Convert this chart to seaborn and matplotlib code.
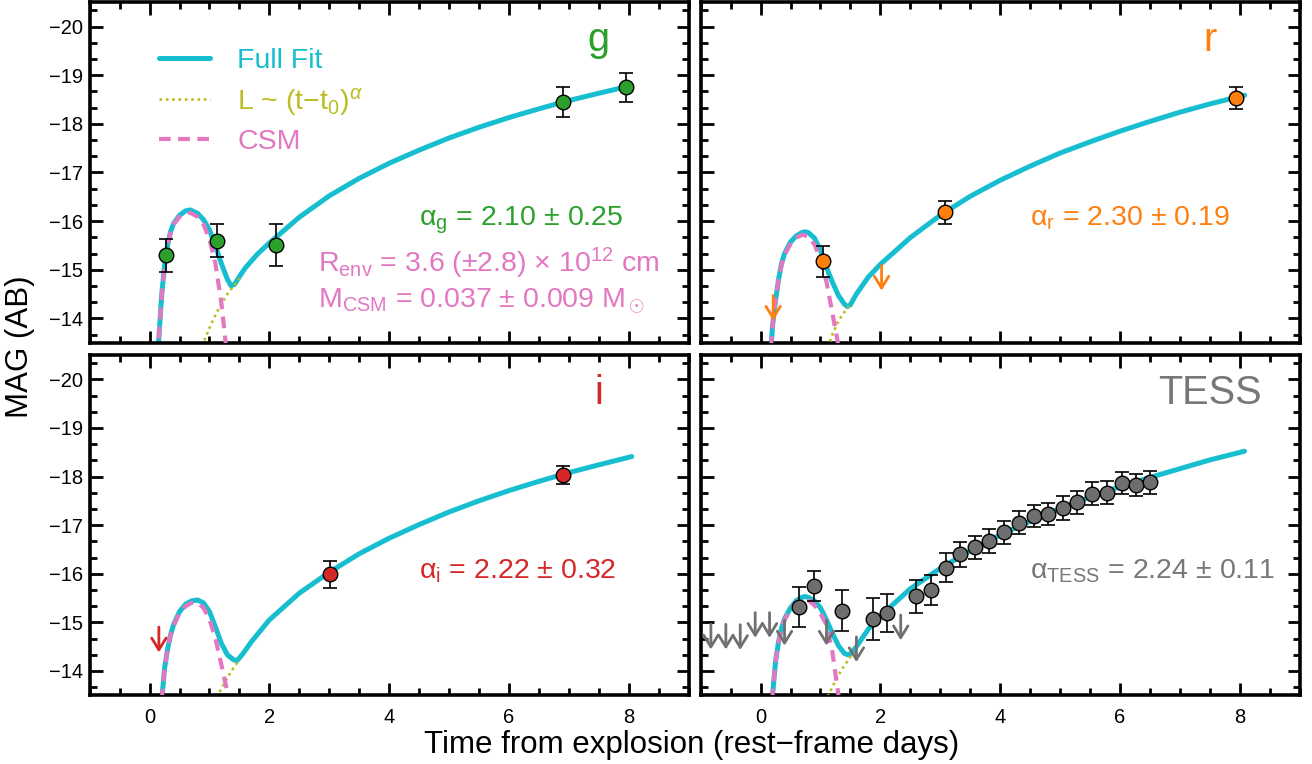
import matplotlib
matplotlib.use("Agg")
import matplotlib.pyplot as plt
from matplotlib.ticker import MultipleLocator
import seaborn as sns

# ---------------- data ----------------
# g band
g_t = [0.27, 1.12, 2.11, 6.90, 7.96]
g_mag = [-15.30, -15.60, -15.51, -18.45, -18.75]
g_err = [0.34, 0.34, 0.44, 0.30, 0.30]
g_fit_t = [0.12, 0.15, 0.2, 0.25, 0.3, 0.35, 0.4, 0.5, 0.6, 0.68, 0.8, 0.9, 1.0, 1.1, 1.2, 1.3, 1.36, 1.42,
           1.5, 1.6, 1.8, 2.0, 2.5, 3.0, 3.5, 4.0, 4.5, 5.0, 5.5, 6.0, 6.5, 7.0, 7.5, 8.05]
g_fit_mag = [-12.8, -13.5, -14.45, -15.1, -15.5, -15.78, -15.95, -16.12, -16.21, -16.23, -16.16, -16.03, -15.82,
             -15.49, -15.12, -14.8, -14.67, -14.7, -14.86, -15.04, -15.32, -15.55, -16.08, -16.52, -16.88, -17.19,
             -17.46, -17.71, -17.93, -18.13, -18.31, -18.48, -18.63, -18.79]
g_csm_t = [0.12, 0.15, 0.2, 0.25, 0.3, 0.35, 0.4, 0.5, 0.6, 0.68, 0.8, 0.9, 1.0, 1.1, 1.2, 1.27, 1.31]
g_csm_mag = [-12.8, -13.5, -14.45, -15.1, -15.49, -15.76, -15.93, -16.09, -16.16, -16.17, -16.09, -15.93, -15.63,
             -15.12, -14.3, -13.5, -12.9]
g_pl_t = [0.84, 0.9, 1.0, 1.1, 1.2, 1.3, 1.4, 1.5]
g_pl_mag = [-13.3, -13.5, -13.8, -14.07, -14.3, -14.5, -14.66, -14.82]

# r band
r_t = [1.05, 3.08, 7.94]
r_mag = [-15.17, -16.18, -18.53]
r_err = [0.31, 0.24, 0.23]
r_lim_t = [0.21, 2.02]
r_lim_mag = [-14.47, -15.09]
r_fit_t = [0.15, 0.18, 0.2, 0.25, 0.3, 0.35, 0.4, 0.5, 0.6, 0.7, 0.75, 0.8, 0.9, 1.0, 1.1, 1.2, 1.3, 1.4, 1.45,
           1.5, 1.6, 1.8, 2.0, 2.5, 3.0, 3.5, 4.0, 4.5, 5.0, 5.5, 6.0, 6.5, 7.0, 7.5, 8.08]
r_fit_mag = [-13.0, -13.5, -13.85, -14.37, -14.8, -15.13, -15.33, -15.57, -15.7, -15.77, -15.78, -15.76, -15.65,
             -15.4, -15.05, -14.74, -14.47, -14.29, -14.24, -14.28, -14.5, -14.85, -15.11, -15.66, -16.12, -16.51,
             -16.84, -17.13, -17.4, -17.63, -17.85, -18.05, -18.24, -18.41, -18.59]
r_csm_t = [0.15, 0.18, 0.2, 0.25, 0.3, 0.35, 0.4, 0.5, 0.6, 0.7, 0.8, 0.9, 1.0, 1.1, 1.2, 1.29, 1.33]
r_csm_mag = [-13.0, -13.5, -13.85, -14.37, -14.79, -15.11, -15.3, -15.53, -15.66, -15.72, -15.68, -15.52, -15.22,
             -14.75, -14.1, -13.5, -13.0]
r_pl_t = [1.12, 1.21, 1.3, 1.4, 1.5]
r_pl_mag = [-13.4, -13.7, -13.95, -14.13, -14.29]

# i band
i_t = [3.02, 6.91]
i_mag = [-15.99, -18.03]
i_err = [0.28, 0.19]
i_lim_t = [0.155]
i_lim_mag = [-14.9]
i_fit_t = [0.18, 0.21, 0.25, 0.3, 0.35, 0.4, 0.5, 0.6, 0.7, 0.8, 0.9, 1.0, 1.1, 1.2, 1.3, 1.4, 1.46, 1.55,
           1.7, 2.0, 2.5, 3.0, 3.5, 4.0, 4.5, 5.0, 5.5, 6.0, 6.5, 7.0, 7.5, 8.05]
i_fit_mag = [-13.0, -13.5, -14.05, -14.45, -14.74, -14.95, -15.22, -15.37, -15.44, -15.46, -15.4, -15.22, -14.9,
             -14.56, -14.33, -14.23, -14.21, -14.34, -14.6, -15.05, -15.6, -16.03, -16.41, -16.73, -17.01, -17.27,
             -17.5, -17.71, -17.9, -18.08, -18.24, -18.41]
i_csm_t = [0.18, 0.21, 0.25, 0.3, 0.35, 0.4, 0.5, 0.6, 0.7, 0.8, 0.9, 1.0, 1.1, 1.2, 1.31, 1.35]
i_csm_mag = [-13.0, -13.5, -14.05, -14.45, -14.73, -14.93, -15.19, -15.33, -15.4, -15.4, -15.3, -15.06, -14.66,
             -14.12, -13.5, -13.1]
i_pl_t = [1.12, 1.2, 1.3, 1.4, 1.5]
i_pl_mag = [-13.45, -13.64, -13.86, -14.06, -14.24]

# TESS
tess_t = [0.64, 0.89, 1.36, 1.87, 2.11, 2.60, 2.84, 3.10, 3.33, 3.58, 3.82, 4.07, 4.31, 4.56, 4.80, 5.05,
          5.28, 5.53, 5.78, 6.03, 6.27, 6.51]
tess_mag = [-15.32, -15.75, -15.24, -15.06, -15.19, -15.54, -15.66, -16.12, -16.40, -16.54, -16.67, -16.85,
            -17.05, -17.19, -17.23, -17.35, -17.47, -17.65, -17.67, -17.86, -17.83, -17.88]
tess_err = [0.41, 0.31, 0.42, 0.43, 0.39, 0.34, 0.31, 0.30, 0.26, 0.24, 0.25, 0.24, 0.23, 0.23, 0.23, 0.24,
            0.24, 0.23, 0.23, 0.23, 0.23, 0.23]
tess_lim_t = [-0.83, -0.58, -0.34, -0.09, 0.15, 0.40, 1.10, 1.60, 2.34]
tess_lim_mag = [-14.96, -14.96, -14.95, -15.20, -15.20, -15.04, -15.04, -14.70, -15.15]
tess_fit_t = [0.17, 0.2, 0.25, 0.3, 0.35, 0.4, 0.5, 0.6, 0.7, 0.75, 0.8, 0.9, 1.0, 1.1, 1.2, 1.3, 1.4, 1.46,
              1.52, 1.6, 1.8, 2.0, 2.5, 3.0, 3.5, 4.0, 4.5, 5.0, 5.5, 6.0, 6.5, 7.0, 7.5, 8.08]
tess_fit_mag = [-13.0, -13.5, -14.2, -14.6, -14.88, -15.07, -15.3, -15.45, -15.52, -15.53, -15.51, -15.44,
                -15.3, -15.05, -14.77, -14.52, -14.36, -14.33, -14.37, -14.5, -14.86, -15.13, -15.69, -16.11,
                -16.47, -16.8, -17.08, -17.34, -17.58, -17.79, -17.98, -18.16, -18.34, -18.52]
tess_csm_t = [0.17, 0.2, 0.25, 0.3, 0.35, 0.4, 0.5, 0.6, 0.7, 0.8, 0.9, 1.0, 1.1, 1.2, 1.3, 1.35]
tess_csm_mag = [-13.0, -13.5, -14.2, -14.6, -14.87, -15.05, -15.28, -15.41, -15.47, -15.45, -15.35, -15.18,
                -14.95, -14.38, -13.5, -13.0]
tess_pl_t = [1.08, 1.16, 1.25, 1.35, 1.45, 1.52]
tess_pl_mag = [-13.35, -13.57, -13.8, -14.02, -14.2, -14.32]

# labels
band_names = ["g", "r", "i", "TESS"]
alpha_labels = [r"α$_\mathrm{g}$ = 2.10 ± 0.25", r"α$_\mathrm{r}$ = 2.30 ± 0.19",
                r"α$_\mathrm{i}$ = 2.22 ± 0.32", r"α$_\mathrm{TESS}$ = 2.24 ± 0.11"]
renv_label = r"R$_\mathrm{env}$ = 3.6 (±2.8) × 10$^{12}$ cm"
mcsm_label = r"M$_\mathrm{CSM}$ = 0.037 ± 0.009 M$_\odot$"
legend_labels = ["Full Fit", r"L ~ (t−t$_\mathrm{0}$)$^\alpha$", "CSM"]
x_ticks = [0, 2, 4, 6, 8]
y_ticks = [-20, -19, -18, -17, -16, -15, -14]

# ---------------- style ----------------
sns.set_theme(style="ticks", rc={"axes.edgecolor": "black", "xtick.color": "black",
                                 "ytick.color": "black", "text.color": "black"})
plt.rcParams["font.family"] = ["Liberation Sans", "DejaVu Sans"]
plt.rcParams["mathtext.fontset"] = "custom"
plt.rcParams["mathtext.rm"] = "Liberation Sans"
plt.rcParams["mathtext.it"] = "Liberation Sans:italic"
plt.rcParams["mathtext.bf"] = "Liberation Sans:bold"
plt.rcParams["mathtext.sf"] = "Liberation Sans"

CYAN = "#17BECF"
PINK = "#E377C2"
OLIVE = "#BCBD22"
band_colors = ["#2CA02C", "#FF7F0E", "#D62728", "#6E6E6E"]
text_colors = ["#2CA02C", "#FF7F0E", "#D62728", "#777777"]
arrow_colors = ["#2CA02C", "#FF7F0E", "#D62728", "#707070"]

fig = plt.figure(figsize=(13.12, 7.64), dpi=100)
W = 0.45648
H = 0.44529
pos = [(0.06837, 0.55157), (0.53407, 0.55157), (0.06837, 0.09005), (0.53407, 0.09005)]
axes = [fig.add_axes([x0, y0, W, H]) for (x0, y0) in pos]

panels = [
    dict(t=g_t, m=g_mag, e=g_err, lt=[], lm=[], ft=g_fit_t, fm=g_fit_mag, ct=g_csm_t, cm=g_csm_mag,
         pt=g_pl_t, pm=g_pl_mag),
    dict(t=r_t, m=r_mag, e=r_err, lt=r_lim_t, lm=r_lim_mag, ft=r_fit_t, fm=r_fit_mag, ct=r_csm_t, cm=r_csm_mag,
         pt=r_pl_t, pm=r_pl_mag),
    dict(t=i_t, m=i_mag, e=i_err, lt=i_lim_t, lm=i_lim_mag, ft=i_fit_t, fm=i_fit_mag, ct=i_csm_t, cm=i_csm_mag,
         pt=i_pl_t, pm=i_pl_mag),
    dict(t=tess_t, m=tess_mag, e=tess_err, lt=tess_lim_t, lm=tess_lim_mag, ft=tess_fit_t, fm=tess_fit_mag,
         ct=tess_csm_t, cm=tess_csm_mag, pt=tess_pl_t, pm=tess_pl_mag),
]

for k, (ax, p) in enumerate(zip(axes, panels)):
    sns.lineplot(x=p["ft"], y=p["fm"], ax=ax, color=CYAN, linewidth=3.6, sort=False, estimator=None,
                 zorder=2, label=legend_labels[0] if k == 0 else None, legend=False)
    sns.lineplot(x=p["pt"], y=p["pm"], ax=ax, color=OLIVE, linewidth=1.9, sort=False, estimator=None,
                 linestyle=(0, (1.0, 1.4)), zorder=3, label=legend_labels[1] if k == 0 else None, legend=False)
    sns.lineplot(x=p["ct"], y=p["cm"], ax=ax, color=PINK, linewidth=3.0, sort=False, estimator=None,
                 linestyle=(0, (2.8, 1.8)), zorder=3, label=legend_labels[2] if k == 0 else None, legend=False)

    ax.errorbar(p["t"], p["m"], yerr=p["e"], fmt="none", ecolor="black", elinewidth=1.2,
                capsize=5, capthick=1.2, zorder=4)
    sns.scatterplot(x=p["t"], y=p["m"], ax=ax, s=110, color=band_colors[k], edgecolor="black",
                    linewidth=1.0, zorder=5, legend=False)

    for lt, lm in zip(p["lt"], p["lm"]):
        ax.annotate("", xy=(lt, lm + 0.52), xytext=(lt, lm),
                    arrowprops=dict(arrowstyle="->,head_length=0.65,head_width=0.4", lw=2.0,
                                    color=arrow_colors[k], shrinkA=0, shrinkB=0, mutation_scale=13),
                    zorder=6)

    ax.set_xlim(-1, 9)
    ax.set_ylim(-13.5, -20.5)
    ax.set_xticks(x_ticks)
    ax.set_yticks(y_ticks)
    ax.xaxis.set_minor_locator(MultipleLocator(0.5))
    ax.yaxis.set_minor_locator(MultipleLocator(1 / 3))
    ax.tick_params(which="both", direction="in", top=True, right=True, width=2.0, color="black",
                   labelsize=14.5)
    ax.tick_params(which="major", length=9)
    ax.tick_params(which="minor", length=5)
    ax.tick_params(axis="x", pad=9)
    ax.tick_params(axis="y", pad=5)
    ax.tick_params(labelbottom=(k >= 2), labelleft=(k % 2 == 0))
    for sp in ax.spines.values():
        sp.set_linewidth(2.6)
        sp.set_color("black")
        sp.set_visible(True)
    ax.set_xlabel("")
    ax.set_ylabel("")

    ax.text(7.5, -19.5, band_names[k], color=text_colors[k], fontsize=28.5, ha="center", va="baseline")
    ax.text(4.5, -15.9, alpha_labels[k], color=text_colors[k], fontsize=20.5, ha="left", va="baseline")

axes[0].text(2.81, -14.94, renv_label, color=PINK, fontsize=20.5, ha="left", va="baseline")
axes[0].text(2.81, -14.21, mcsm_label, color=PINK, fontsize=20.5, ha="left", va="baseline")

handles, labels = axes[0].get_legend_handles_labels()
axes[0].legend(handles, labels, loc="upper left", bbox_to_anchor=(0.1157, 0.865), frameon=False,
               fontsize=20.5, handlelength=1.8, handletextpad=0.95, labelspacing=0.40,
               borderpad=0, borderaxespad=0, labelcolor="linecolor")

fig.text(692 / 1312, 1 - 745 / 764, "Time from explosion (rest−frame days)", fontsize=22.5,
         ha="center", va="center")
fig.text(20 / 1312, 1 - 347 / 764, "MAG (AB)", fontsize=22.5, rotation=90, ha="center", va="center")

fig.savefig("out.png", dpi=100)
